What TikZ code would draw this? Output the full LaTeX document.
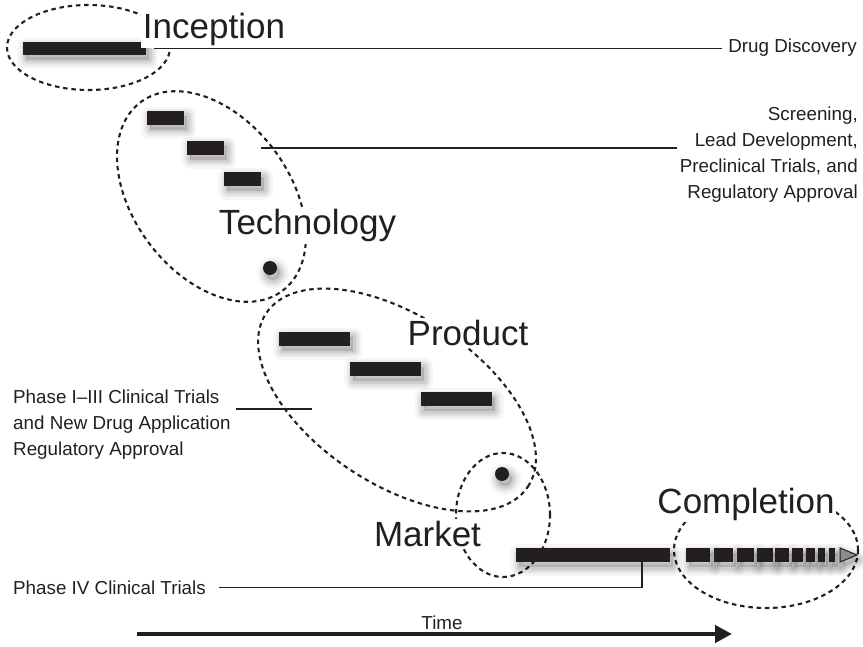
\documentclass[tikz,border=0pt]{standalone}
\usepackage{fontspec}
\setmainfont{Liberation Sans}
\usetikzlibrary{arrows.meta,positioning,calc}
\definecolor{barblack}{HTML}{231F20}
\tikzset{
  blurlayer/.style 2 args={preaction={draw=black, opacity=#2, line width=#1, line join=round, transform canvas={shift={(3pt,-5pt)}}}},
  softshadow/.style={
    preaction={fill=black, opacity=0.14, transform canvas={shift={(3pt,-5pt)}}},
    blurlayer={18pt}{0.035}, blurlayer={13pt}{0.045}, blurlayer={9pt}{0.055}, blurlayer={5pt}{0.07}},
  barbox/.style={softshadow, fill=barblack, inner sep=0pt, minimum height=14pt},
  dotmark/.style={circle, softshadow, fill=barblack, inner sep=0pt, minimum size=14pt},
  phasering/.style={draw=barblack, line width=2.1pt, dash pattern=on 4.5pt off 3.8pt},
  stagelabel/.style={fill=white, text=barblack, inner sep=1.5pt, font=\fontsize{35}{42}\selectfont},
  sidenote/.style={text=barblack, inner sep=0pt, font=\fontsize{18.8}{26}\selectfont},
  leader/.style={draw=barblack, line width=1.1pt},
  timearrow/.style={draw=barblack, line width=4.5pt, -{Triangle[length=17pt,width=17pt]}}
}
\begin{document}
\begin{tikzpicture}[x=1pt, y=-1pt]
    \useasboundingbox (0,0) rectangle (863,647);

    % phases
    \draw[phasering] (88.5,47.5) ellipse [x radius=81.5pt, y radius=42.5pt];
    \draw[phasering, rotate around={-53:(211.5,196.5)}] (211.5,196.5) ellipse [x radius=118pt, y radius=78pt];
    \draw[phasering, rotate around={-33.5:(397,400)}] (397,400) ellipse [x radius=157pt, y radius=84pt];
    \draw[phasering] (503,515) ellipse [x radius=47pt, y radius=62pt];
    \draw[phasering] (766,550) ellipse [x radius=92pt, y radius=58pt];

    \node[barbox, minimum width=123pt, minimum height=13pt] (inc) at (84.5,48.5) {};

    \node[barbox, minimum width=37pt] (t1) at (165.5,118) {};
    \node[barbox, minimum width=37pt] (t2) at (205.5,148) {};
    \node[barbox, minimum width=37pt] (t3) at (242.5,179) {};
    \node[dotmark] (tdot) at (270,268) {};

    \node[barbox, minimum width=71pt] (p1) at (314.5,339) {};
    \node[barbox, minimum width=71pt] (p2) at (385.5,369) {};
    \node[barbox, minimum width=71pt] (p3) at (456,399) {};
    \node[dotmark] (pdot) at (502,474) {};

    \node[barbox, minimum width=154pt] (mkt) at (593,555) {};

    \foreach \a/\b in {686/710, 714/733, 737/754, 757/773, 775/789, 792/803, 806/815, 818/825, 829/835}
        \fill[softshadow, barblack] (\a,548) rectangle (\b,562);
    \filldraw[softshadow, fill=black!45, draw=barblack, line width=1pt] (840,548) -- (857,555) -- (840,562) -- cycle;

    % labels
    \node[stagelabel, anchor=base] (inception) at (214,39) {Inception};
    \node[stagelabel, anchor=base] (technology) at (307.5,235) {Technology};
    \node[stagelabel, anchor=base] (product) at (468,345) {Product};
    \node[stagelabel, anchor=base] (market) at (427.5,546) {Market};
    \node[stagelabel, anchor=base] (completion) at (746,513) {Completion};

    \node[sidenote, anchor=east] (drug) at (857,48) {Drug Discovery};
    \node[sidenote, anchor=north east, align=right] (screen) at (858,106.5)
        {Screening,\\Lead Development,\\Preclinical Trials, and\hspace*{6pt}\\Regulatory Approval};
    \node[sidenote, anchor=north west, align=left] (clin) at (13,389.5)
        {Phase I--III Clinical Trials\\and New Drug Application\\Regulatory Approval};
    \node[sidenote, anchor=base west] (phase4) at (13,594) {Phase IV Clinical Trials};
    \node[sidenote, anchor=base] (time) at (442,629) {Time};

    \coordinate (clinend) at (312,409);
    \coordinate (mktfoot) at (642,562);
    \coordinate (t0) at (137,634);
    \coordinate (tend) at (732,634);

    \draw[leader] ([xshift=8pt]inc.east) -- ([xshift=-6pt]drug.west |- inc.east);
    \draw[leader] (t2 -| t3.east) -- ([xshift=-3pt]screen.west |- t2);
    \draw[leader] ([xshift=5pt]clin.east |- clinend) -- (clinend);
    \draw[leader] ([xshift=13pt]phase4.east) -| (mktfoot);
    \draw[timearrow] (t0) -- (tend);

\end{tikzpicture}
\end{document}
